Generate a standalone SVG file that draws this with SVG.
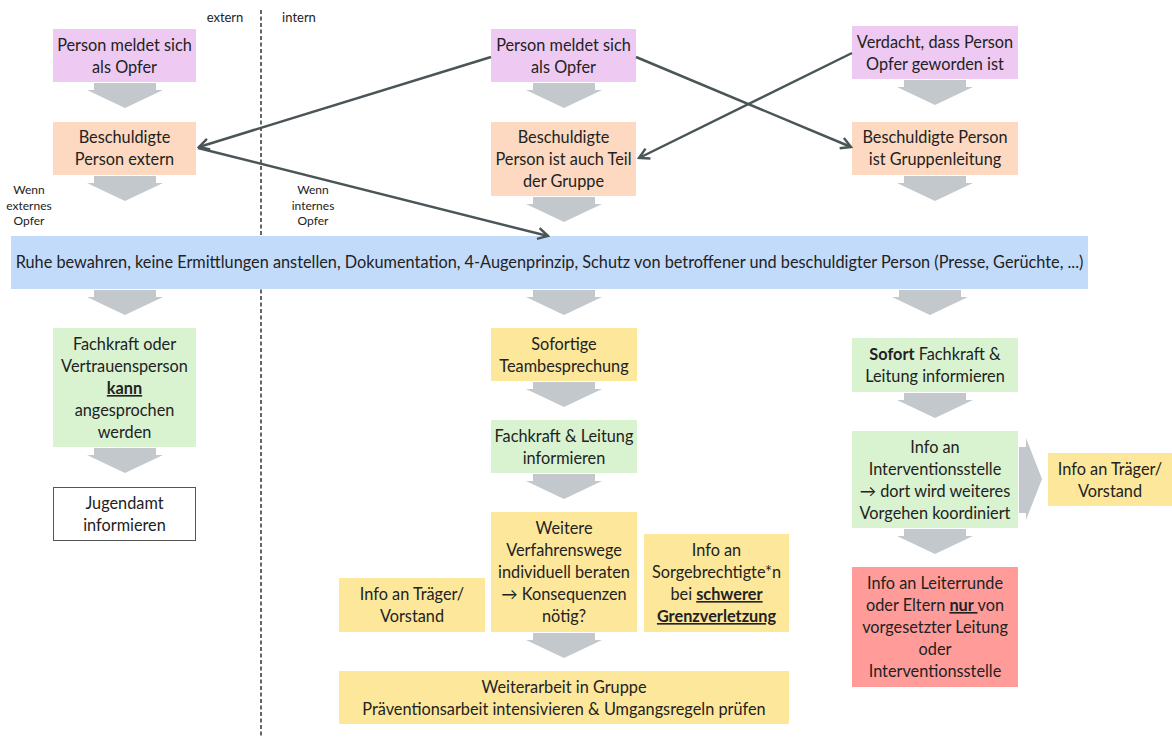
<svg xmlns="http://www.w3.org/2000/svg" width="1172" height="738" viewBox="0 0 1172 738">
<defs>
<style>
text{font-family:Lato,"Liberation Sans",sans-serif;fill:#222;}
.t{font-size:16.3px;text-anchor:middle;}
.s{font-size:12px;text-anchor:middle;}
.h{font-size:13px;text-anchor:middle;}
.b{font-weight:bold;}
.u{text-decoration:underline;}
.purple{fill:#eecaf3;}
.peach{fill:#fdd9c1;}
.blue{fill:#c2dbfa;}
.green{fill:#d9f2d0;}
.yellow{fill:#fde79b;}
.red{fill:#ff9c9a;}
.white{fill:#fff;stroke:#555;stroke-width:1;}
.ga{fill:#c3c8cc;}
.con{stroke:#4a5558;stroke-width:2.5;fill:none;marker-end:url(#ah);}
</style>
<marker id="ah" viewBox="0 0 14 14" refX="12" refY="7" markerWidth="14" markerHeight="14" markerUnits="userSpaceOnUse" orient="auto">
<polyline points="2,1.5 12,7 2,12.5" fill="none" stroke="#4a5558" stroke-width="2.4"/>
</marker>
<path id="da" d="M-31,0 H31 V7 H38 L0,25 L-38,7 H-31 Z"/>
</defs>
<rect width="1172" height="738" fill="#fff"/>

<line x1="261" y1="10" x2="261" y2="738" stroke="#333" stroke-width="1.5" stroke-dasharray="4,2.5"/>
<text class="h" x="225" y="22">extern</text>
<text class="h" x="299" y="22">intern</text>
<g id="label-extern">
<text class="s" x="29" y="194">Wenn</text>
<text class="s" x="29" y="210">externes</text>
<text class="s" x="29" y="225">Opfer</text>
</g>
<g id="label-intern">
<text class="s" x="313" y="194">Wenn</text>
<text class="s" x="313" y="210">internes</text>
<text class="s" x="313" y="225">Opfer</text>
</g>

<g id="block-arrows">
<use href="#da" x="125" y="83" class="ga"/>
<use href="#da" x="125" y="176" class="ga"/>
<use href="#da" x="564" y="83" class="ga"/>
<use href="#da" x="564" y="197" class="ga"/>
<use href="#da" x="935" y="80" class="ga"/>
<use href="#da" x="935" y="176" class="ga"/>
<use href="#da" x="125" y="290" class="ga"/>
<use href="#da" x="564" y="290" class="ga"/>
<use href="#da" x="930" y="290" class="ga"/>
<use href="#da" x="125" y="448" class="ga"/>
<use href="#da" x="564" y="382" class="ga"/>
<use href="#da" x="564" y="474" class="ga"/>
<use href="#da" x="564" y="633" class="ga"/>
<use href="#da" x="935" y="393" class="ga"/>
<use href="#da" x="935" y="529" class="ga"/>
<path class="ga" d="M1019,447 H1026 V438 L1042,479 L1026,520 V513 H1019 Z"/>
</g>

<g id="n-a1"><rect class="purple" x="53" y="29" width="143" height="53"/>
<text class="t" x="124.5" y="51">Person meldet sich</text><text class="t" x="124.5" y="73">als Opfer</text></g>
<g id="n-b1"><rect class="peach" x="53" y="122" width="143" height="53"/>
<text class="t" x="124.5" y="143">Beschuldigte</text><text class="t" x="124.5" y="165">Person extern</text></g>
<g id="n-a2"><rect class="purple" x="491" y="29" width="145" height="53"/>
<text class="t" x="563.5" y="51">Person meldet sich</text><text class="t" x="563.5" y="73">als Opfer</text></g>
<g id="n-b2"><rect class="peach" x="491" y="122" width="145" height="74"/>
<text class="t" x="563.5" y="143">Beschuldigte</text><text class="t" x="563.5" y="165">Person ist auch Teil</text><text class="t" x="563.5" y="187">der Gruppe</text></g>
<g id="n-a3"><rect class="purple" x="852" y="26" width="166" height="53"/>
<text class="t" x="935" y="48">Verdacht, dass Person</text><text class="t" x="935" y="70">Opfer geworden ist</text></g>
<g id="n-b3"><rect class="peach" x="852" y="122" width="166" height="53"/>
<text class="t" x="935" y="143">Beschuldigte Person</text><text class="t" x="935" y="165">ist Gruppenleitung</text></g>

<g id="n-bar"><rect class="blue" x="11" y="236" width="1077" height="53"/>
<text class="t" x="549.5" y="268">Ruhe bewahren, keine Ermittlungen anstellen, Dokumentation, 4-Augenprinzip, Schutz von betroffener und beschuldigter Person (Presse, Gerüchte, ...)</text></g>

<g id="n-c1"><rect class="green" x="53" y="328" width="143" height="119"/>
<text class="t" x="124.5" y="350">Fachkraft oder</text><text class="t" x="124.5" y="372">Vertrauensperson</text><text class="t b u" x="124.5" y="394">kann</text><text class="t" x="124.5" y="416">angesprochen</text><text class="t" x="124.5" y="438">werden</text></g>
<g id="n-d1"><rect class="white" x="53.5" y="487.5" width="142" height="53"/>
<text class="t" x="124.5" y="509">Jugendamt</text><text class="t" x="124.5" y="531">informieren</text></g>

<g id="n-c2"><rect class="yellow" x="491" y="328" width="146" height="53"/>
<text class="t" x="564" y="350">Sofortige</text><text class="t" x="564" y="372">Teambesprechung</text></g>
<g id="n-c2b"><rect class="green" x="491" y="420" width="146" height="53"/>
<text class="t" x="564" y="442">Fachkraft &amp; Leitung</text><text class="t" x="564" y="464">informieren</text></g>
<g id="n-e"><rect class="yellow" x="491" y="512" width="146" height="120"/>
<text class="t" x="564" y="534">Weitere</text><text class="t" x="564" y="556">Verfahrenswege</text><text class="t" x="564" y="578">individuell beraten</text><text class="t" x="564" y="600">→ Konsequenzen</text><text class="t" x="564" y="622">nötig?</text></g>
<g id="n-traeger1"><rect class="yellow" x="339" y="578" width="146" height="54"/>
<text class="t" x="412" y="600">Info an Träger/</text><text class="t" x="412" y="622">Vorstand</text></g>
<g id="n-sorge"><rect class="yellow" x="644" y="534" width="145" height="98"/>
<text class="t" x="716.5" y="556">Info an</text><text class="t" x="716.5" y="578">Sorgebrechtigte*n</text><text class="t" x="716.5" y="600">bei <tspan class="b u">schwerer</tspan></text><text class="t b u" x="716.5" y="622">Grenzverletzung</text></g>
<g id="n-f"><rect class="yellow" x="339" y="671" width="450" height="53"/>
<text class="t" x="564" y="693">Weiterarbeit in Gruppe</text><text class="t" x="564" y="715">Präventionsarbeit intensivieren &amp; Umgangsregeln prüfen</text></g>

<g id="n-c3"><rect class="green" x="852" y="338" width="166" height="54"/>
<text class="t" x="935" y="360"><tspan class="b">Sofort</tspan> Fachkraft &amp;</text><text class="t" x="935" y="382">Leitung informieren</text></g>
<g id="n-c3b"><rect class="green" x="852" y="431" width="166" height="97"/>
<text class="t" x="935" y="453">Info an</text><text class="t" x="935" y="475">Interventionsstelle</text><text class="t" x="935" y="497">→ dort wird weiteres</text><text class="t" x="935" y="519">Vorgehen koordiniert</text></g>
<g id="n-traeger2"><rect class="yellow" x="1048" y="453" width="124" height="53"/>
<text class="t" x="1110" y="475">Info an Träger/</text><text class="t" x="1110" y="497">Vorstand</text></g>
<g id="n-red"><rect class="red" x="852" y="567" width="166" height="120"/>
<text class="t" x="935" y="589">Info an Leiterrunde</text><text class="t" x="935" y="611">oder Eltern <tspan class="b u">nur </tspan>von</text><text class="t" x="935" y="633">vorgesetzter Leitung</text><text class="t" x="935" y="655">oder</text><text class="t" x="935" y="677">Interventionsstelle</text></g>

<g id="connectors">
<line class="con" x1="491" y1="57" x2="199" y2="147"/>
<line class="con" x1="198" y1="148" x2="548" y2="236"/>
<line class="con" x1="636" y1="57" x2="851" y2="147"/>
<line class="con" x1="852" y1="53" x2="639" y2="158"/>
</g>
</svg>
